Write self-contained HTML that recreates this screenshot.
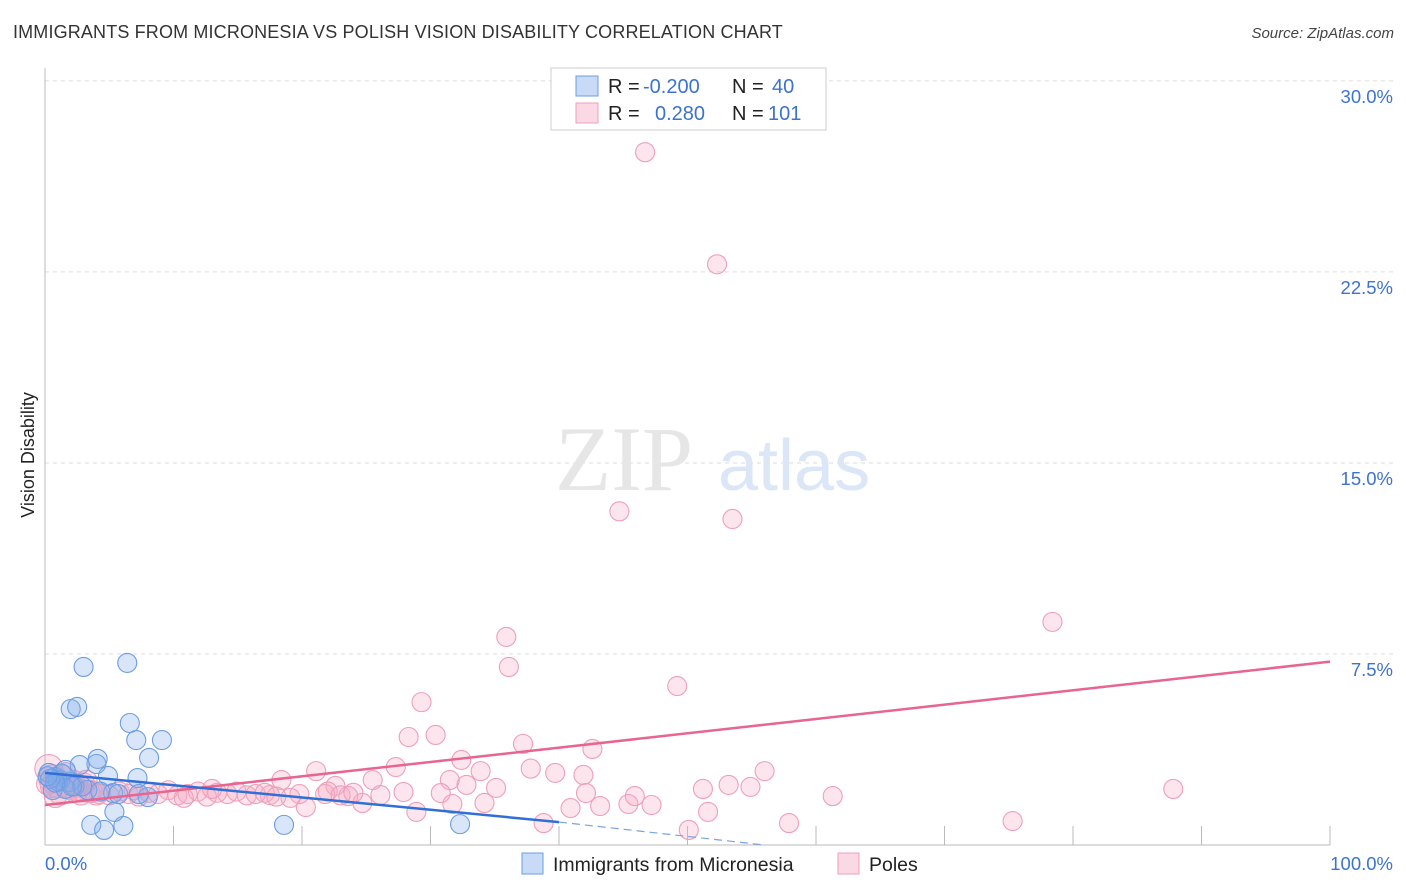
<!DOCTYPE html>
<html><head><meta charset="utf-8">
<style>
body{margin:0;background:#fff;font-family:"Liberation Sans",sans-serif;}
#wrap{position:relative;width:1406px;height:892px;overflow:hidden;}
.title{position:absolute;left:13px;top:22px;font-size:18px;color:#333;letter-spacing:0.15px}
.source{position:absolute;right:12px;top:25px;font-size:15px;color:#444;font-style:italic}
</style></head><body>
<div id="wrap">
<div class="title">IMMIGRANTS FROM MICRONESIA VS POLISH VISION DISABILITY CORRELATION CHART</div>
<div class="source">Source: ZipAtlas.com</div>
<svg id="svg" width="1406" height="892" style="position:absolute;left:0;top:0"></svg>
</div>
<script>
const yTicks=[7.5,15,22.5,30];
const yTickLabels=["7.5%","15.0%","22.5%","30.0%"];
const xTickLabels=["0.0%","100.0%"];
const blueX=[3.0,6.4,2.0,2.5,6.6,7.1,9.1,8.1,4.1,4.0,2.7,4.9,7.2,0.3,0.8,1.2,1.9,3.3,5.3,8.0,0.6,3.6,4.6,6.1,5.4,18.6,32.3,1.3,1.6,2.3,4.3,1.0,0.4,1.6,2.9,5.7,7.3,2.1,0.8,0.2];
const blueY=[6.99,7.15,5.34,5.42,4.79,4.12,4.12,3.42,3.38,3.18,3.14,2.71,2.63,2.83,2.67,2.55,2.47,2.16,2.04,1.88,2.16,0.79,0.59,0.75,1.3,0.79,0.82,2.8,2.95,2.3,2.1,2.5,2.6,2.2,2.3,2.0,2.0,2.3,2.45,2.7];
const pinkX=[46.7,52.3,44.7,53.5,78.4,35.9,36.1,49.2,29.3,28.3,30.4,32.4,37.2,42.6,56.0,37.8,39.7,41.9,33.9,27.3,21.1,31.5,53.2,54.9,51.2,61.3,87.8,75.3,57.9,50.1,51.6,47.2,45.4,43.2,40.9,38.8,45.9,42.1,35.1,32.8,30.8,34.2,31.7,28.9,27.9,26.1,25.5,24.7,23.6,22.6,21.8,20.3,19.8,18.4,19.1,17.5,
4.2,5.0,5.8,6.5,7.3,8.1,8.8,9.6,10.3,11.1,11.9,12.6,13.4,14.2,14.9,15.7,16.4,17.1,18.0,13.0,10.8,6.9,22.0,23.0,24.0,
0.3,0.6,1.0,1.4,1.8,2.2,2.6,3.0,3.4,0.5,1.2,2.0,2.8,3.6,0.8,1.6,2.4,3.2,4.0,0.2];
const pinkY=[27.2,22.8,13.1,12.8,8.76,8.17,6.99,6.24,5.61,4.24,4.32,3.34,3.97,3.77,2.9,3.0,2.83,2.75,2.9,3.06,2.9,2.55,2.36,2.28,2.2,1.92,2.2,0.94,0.86,0.59,1.3,1.57,1.61,1.53,1.45,0.86,1.92,2.04,2.24,2.36,2.04,1.65,1.61,1.3,2.08,1.96,2.55,1.65,1.92,2.32,2.0,1.49,2.0,2.55,1.85,1.96,
2.0,1.95,2.1,2.0,1.9,2.05,2.0,2.15,1.95,2.0,2.1,1.9,2.05,2.0,2.1,1.95,2.0,2.05,1.9,2.2,1.85,2.15,2.1,1.95,2.05,
3.0,2.6,2.4,2.7,2.3,2.5,2.2,2.4,2.1,2.3,2.0,2.2,2.0,2.1,1.9,2.8,2.3,2.5,2.0,2.4];
const pinkR=[];
for(let i=0;i<pinkX.length;i++)pinkR.push(i>=81?(i<84?14:11):9.5);
const blueTrend=[[0,2.83],[40,0.9]];
const blueDash=[[40,0.9],[56,0]];
const pinkTrend=[[0,1.57],[100,7.2]];

const X=v=>45+v*12.85, Y=v=>845-v*25.47;
const svg=document.getElementById('svg');
const NS='http://www.w3.org/2000/svg';
function mk(t,a){const e=document.createElementNS(NS,t);for(const k in a)e.setAttribute(k,a[k]);svg.appendChild(e);return e;}
yTicks.forEach((t,i)=>{
 const g=mk('line',{x1:45,x2:1395,y1:Y(t),y2:Y(t),stroke:'#ddd','stroke-dasharray':'4,4'});
 
 
 const l=mk('text',{x:1393,y:Y(t)+22,'text-anchor':'end','font-size':'18.5',fill:'#3b73d1'});
 l.textContent=yTickLabels[i];
 
 
});
let ax=mk('line',{x1:45,x2:45,y1:68,y2:845,stroke:'#bbb'});


ax=mk('line',{x1:45,x2:1330,y1:845,y2:845,stroke:'#bbb'});


for(let i=1;i<=10;i++){
 const tk=mk('line',{x1:X(i*10),x2:X(i*10),y1:826,y2:845,stroke:'#bbb'});
 
 
}
[[45,'start',0],[1393,'end',1]].forEach(([x,a,i])=>{
 const t=mk('text',{x:x,y:870,'text-anchor':a,'font-size':'18.5',fill:'#3b73d1'});
 t.textContent=xTickLabels[i];
 
 
});
const yt=mk('text',{x:34,y:455,'text-anchor':'middle','font-size':'18',fill:'#222',transform:'rotate(-90 34 455)'});
yt.textContent='Vision Disability';


const wm=mk('text',{x:555,y:490,'font-size':'92','font-family':'Liberation Serif',fill:'#e6e6e6'});
wm.textContent='ZIP';


const wm2=mk('text',{x:718,y:490,'font-size':'72',fill:'#dbe6f6'});
wm2.textContent='atlas';


pinkX.forEach((v,i)=>{
 const c=mk('circle',{cx:X(v),cy:Y(pinkY[i]),r:pinkR[i],fill:'rgba(246,170,196,0.3)',stroke:'#ef9fba','stroke-width':1.1});
 
 
});
blueX.forEach((v,i)=>{
 const c=mk('circle',{cx:X(v),cy:Y(blueY[i]),r:9.5,fill:'rgba(130,172,236,0.3)',stroke:'#6d9de3','stroke-width':1.1});
 
 
});
let tl=mk('line',{x1:X(pinkTrend[0][0]),y1:Y(pinkTrend[0][1]),x2:X(pinkTrend[1][0]),y2:Y(pinkTrend[1][1]),stroke:'#e8658f','stroke-width':2.5});


tl=mk('line',{x1:X(blueTrend[0][0]),y1:Y(blueTrend[0][1]),x2:X(blueTrend[1][0]),y2:Y(blueTrend[1][1]),stroke:'#2f6fd6','stroke-width':2.5});


tl=mk('line',{x1:X(blueDash[0][0]),y1:Y(blueDash[0][1]),x2:X(blueDash[1][0]),y2:Y(blueDash[1][1]),stroke:'#7aa3e3','stroke-width':1.2,'stroke-dasharray':'8,5'});


const lb=mk('rect',{x:551,y:68,width:275,height:62,fill:'#fff',stroke:'#ccc'});


[[0,'rgba(130,172,236,0.45)','#6d9de3','-0.200','40'],[1,'rgba(246,170,196,0.45)','#ef9fba','0.280','101']].forEach(([i,f,s,r,n])=>{
 const y=76+i*27;
 const sw=mk('rect',{x:576,y:y,width:22,height:20,fill:f,stroke:s});
 
 
 const t=mk('text',{x:608,y:y+17,'font-size':'20',fill:'#222'});
 t.innerHTML='R = <tspan fill="#3b73d1" x="'+(i?655:643)+'">'+r+'</tspan><tspan x="732" fill="#222">N = </tspan><tspan fill="#3b73d1" x="'+(i?768:772)+'">'+n+'</tspan>';
 
 
});
[[522,'rgba(130,172,236,0.45)','#6d9de3','Immigrants from Micronesia'],[838,'rgba(246,170,196,0.45)','#ef9fba','Poles']].forEach(([x,f,s,l])=>{
 const sw=mk('rect',{x:x,y:853,width:21,height:21,fill:f,stroke:s});
 
 
 const t=mk('text',{x:x+31,y:871,'font-size':'19.5',fill:'#222'});
 t.textContent=l;
 
 
});
</script>
</body></html>
